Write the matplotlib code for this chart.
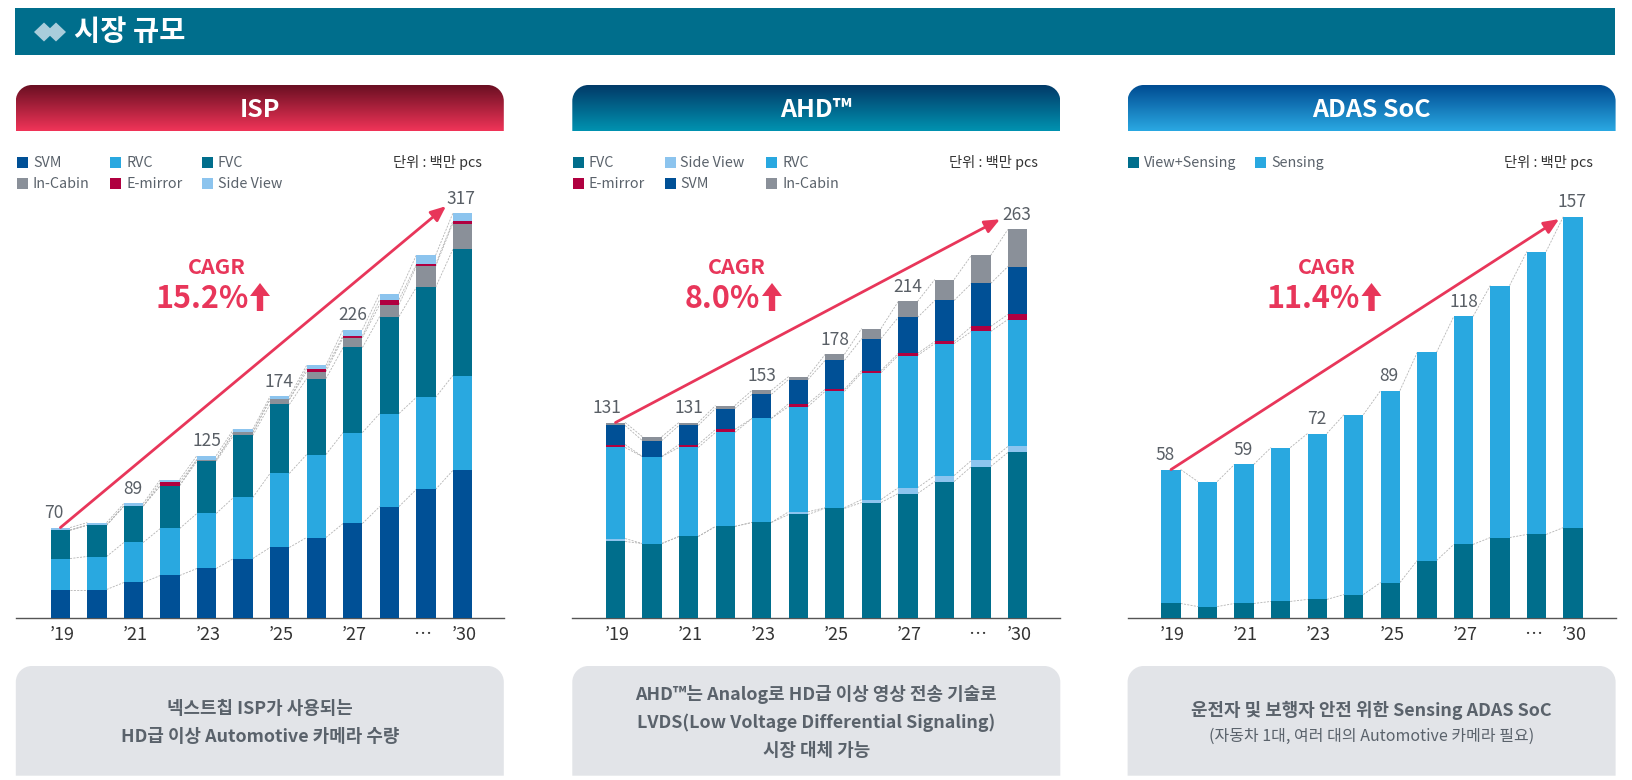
"""Market size panels: ISP, AHD, ADAS SoC stacked bars."""
import numpy as np
import matplotlib
matplotlib.use("Agg")
import matplotlib.pyplot as plt
from matplotlib.patches import PathPatch, Polygon, Rectangle
from matplotlib.path import Path

plt.rcParams["font.family"] = ["Noto Sans CJK KR", "DejaVu Sans"]

W, H = 1632, 780

# ---------------------------------------------------------------------------
# Data (million pcs)
# ---------------------------------------------------------------------------
tick_pos = [0.04, 2.04, 4.04, 6.04, 8.04, 9.9, 11.04]
tick_labels = ["’19", "’21", "’23", "’25", "’27", "…", "’30"]

isp_svm = [22.2, 22.2, 27.7, 33.2, 38.7, 46.5, 55.2, 63.0, 74.0, 87.3, 100.7, 115.6]
isp_rvc = [24.3, 25.9, 31.4, 36.9, 43.2, 47.9, 58.1, 65.1, 71.4, 73.0, 72.2, 74.5]
isp_fvc = [22.3, 24.6, 28.6, 33.7, 41.0, 48.7, 54.1, 59.6, 66.7, 76.1, 86.3, 98.9]
isp_cabin = [0, 0, 0, 0, 1.3, 2.4, 3.9, 5.5, 7.8, 9.4, 16.5, 20.4]
isp_emirror = [0, 0, 0, 2.6, 0, 0, 0, 2.4, 1.6, 3.9, 1.6, 1.6]
isp_side = [2.0, 2.0, 2.0, 2.1, 3.1, 2.4, 2.4, 2.4, 4.7, 4.7, 7.1, 6.3]
isp_labels = [70, 89, 125, 174, 226, 317]

ahd_fvc = [51.7, 50.3, 55.1, 61.9, 64.6, 70.0, 74.1, 78.1, 84.2, 92.3, 102.5, 112.0]
ahd_side = [2.0, 0, 0, 0, 0, 1.8, 0.5, 2.0, 3.9, 4.1, 4.1, 4.1]
ahd_rvc = [61.7, 58.9, 60.3, 63.7, 70.5, 71.3, 78.8, 86.0, 89.6, 89.4, 87.4, 86.0]
ahd_emirror = [2.0, 0, 2.0, 2.0, 0, 2.0, 1.4, 1.4, 1.4, 1.4, 3.4, 3.4]
ahd_svm = [12.9, 10.8, 12.9, 14.2, 16.3, 16.3, 19.6, 21.7, 24.4, 27.8, 29.1, 32.5]
ahd_cabin = [2.0, 2.7, 2.0, 2.0, 2.7, 2.0, 4.1, 6.8, 10.8, 14.2, 19.0, 25.1]
ahd_labels = [131, 131, 153, 178, 214, 263]

adas_view = [5.6, 4.4, 5.6, 6.4, 7.2, 9.1, 13.8, 22.4, 28.7, 31.4, 32.6, 35.3]
adas_sensing = [52.4, 48.9, 54.4, 60.2, 64.9, 70.4, 75.1, 81.4, 89.2, 98.6, 110.7, 121.7]
adas_labels = [58, 59, 72, 89, 118, 157]

COLORS = {
    "SVM": "#005096", "RVC": "#29a8e0", "FVC": "#006e8c",
    "In-Cabin": "#8a9099", "E-mirror": "#b00040", "Side View": "#8cc4ee",
    "View+Sensing": "#006e8c", "Sensing": "#29a8e0",
}
RED = "#e8365a"
GREY_TXT = "#5a626b"

panels = [
    dict(left=15.8, title="ISP", top=("#6a0f22", "#f03458"),
         series=[("SVM", isp_svm), ("RVC", isp_rvc), ("FVC", isp_fvc),
                 ("In-Cabin", isp_cabin), ("E-mirror", isp_emirror), ("Side View", isp_side)],
         legend=[("SVM", 17, 163), ("RVC", 110, 163), ("FVC", 201.5, 163),
                 ("In-Cabin", 17, 184.5), ("E-mirror", 110, 184.5), ("Side View", 201.5, 184.5)],
         scale=1.2744, offset=44.6, labels=isp_labels, label_dx=[-7, -1, 0, -1, 0, -1],
         tip=(10.55, 323), unit_x=481.5, cagr_x=217, pct="15.2%", pct_right=248.5, arrow_x=260,
         notes=[("넥스트칩 ISP가 사용되는", 709, 12.9, "bold"),
                ("HD급 이상 Automotive 카메라 수량", 737, 12.9, "bold")]),
    dict(left=572.3, title="AHD™", top=("#023a68", "#0092b0"),
         series=[("FVC", ahd_fvc), ("Side View", ahd_side), ("RVC", ahd_rvc),
                 ("E-mirror", ahd_emirror), ("SVM", ahd_svm), ("In-Cabin", ahd_cabin)],
         legend=[("FVC", 572.5, 163), ("Side View", 664.5, 163), ("RVC", 766, 163),
                 ("E-mirror", 572.5, 184.5), ("SVM", 664.5, 184.5), ("In-Cabin", 766, 184.5)],
         scale=1.476, offset=43.2, labels=ahd_labels, label_dx=[-9, 0, 0, 0, 0, -1],
         tip=(10.52, 270), unit_x=1037.5, cagr_x=736.5, pct="8.0%", pct_right=759.5, arrow_x=772,
         notes=[("AHD™는 Analog로 HD급 이상 영상 전송 기술로", 694, 12.9, "bold"),
                ("LVDS(Low Voltage Differential Signaling)", 722.5, 12.9, "bold"),
                ("시장 대체 가능", 750.5, 12.9, "bold")]),
    dict(left=1127.6, title="ADAS SoC", top=("#004c92", "#2aa8e2"),
         series=[("View+Sensing", adas_view), ("Sensing", adas_sensing)],
         legend=[("View+Sensing", 1127.5, 163), ("Sensing", 1255, 163)],
         scale=2.556, offset=43.4, labels=adas_labels, label_dx=[-6, -1, 0, -1, 0, -1],
         tip=(10.62, 156), unit_x=1592.5, cagr_x=1327, pct="11.4%", pct_right=1359.5, arrow_x=1371.5,
         notes=[("운전자 및 보행자 안전 위한 Sensing ADAS SoC", 710, 12.9, "bold"),
                ("(자동차 1대, 여러 대의 Automotive 카메라 필요)", 736, 11.5, "normal")]),
]

label_bars = [0, 2, 4, 6, 8, 11]
PANEL_W = 488
STEP = 36.55
BAR_W = 19.3
BASE_Y = 617.8
AX_TOP = 190


def top_round_path(x0, x1, y0, y1, r):
    """Box with rounded top corners, in pixel coords (y grows downward)."""
    k = 0.45 * r
    verts = [(x0, y1), (x0, y0 + r), (x0, y0 + k), (x0 + k, y0), (x0 + r, y0),
             (x1 - r, y0), (x1 - k, y0), (x1, y0 + k), (x1, y0 + r), (x1, y1), (x0, y1)]
    codes = [Path.MOVETO, Path.LINETO, Path.CURVE4, Path.CURVE4, Path.CURVE4,
             Path.LINETO, Path.CURVE4, Path.CURVE4, Path.CURVE4, Path.LINETO, Path.CLOSEPOLY]
    return Path(verts, codes)


fig = plt.figure(figsize=(W / 100, H / 100), dpi=100, facecolor="white")

# page-level decorations live in one pixel-space axes
deco = fig.add_axes([0, 0, 1, 1], zorder=1)
deco.set_xlim(0, W)
deco.set_ylim(H, 0)
deco.axis("off")

deco.add_patch(Rectangle((15.2, 8.3), 1599.8, 46.7, fc="#006e8c", ec="none"))
for cx in (44, 56):
    deco.add_patch(Polygon([(cx - 10, 32), (cx, 22.5), (cx + 10, 32), (cx, 41.5)], fc="#a9cddb", ec="none"))
deco.text(74, 32, "시장 규모", color="white", fontsize=20.5, fontweight="bold", va="center", ha="left")

for p in panels:
    x0, x1 = p["left"], p["left"] + PANEL_W

    # header with vertical gradient
    c0 = np.array(matplotlib.colors.to_rgb(p["top"][0]))
    c1 = np.array(matplotlib.colors.to_rgb(p["top"][1]))
    t = np.linspace(0, 1, 64)[:, None, None]
    grad = c0[None, None, :] * (1 - t) + c1[None, None, :] * t
    im = deco.imshow(grad, extent=(x0, x1, 131, 85), aspect="auto", zorder=1)
    im.set_clip_path(PathPatch(top_round_path(x0, x1, 85, 131, 16), transform=deco.transData))
    deco.text((x0 + x1) / 2, 110, p["title"], color="white", fontsize=18, fontweight="bold",
              ha="center", va="center", zorder=2)

    # note box
    deco.add_patch(PathPatch(top_round_path(x0, x1, 666, 775.7, 16), fc="#e2e4e8", ec="none"))
    for txt, y, size, weight in p["notes"]:
        deco.text((x0 + x1) / 2, y, txt, color=GREY_TXT, fontsize=size, fontweight=weight,
                  ha="center", va="center")

    # legend and unit
    for name, lx, ly in p["legend"]:
        deco.add_patch(Rectangle((lx, ly - 6.5), 11, 11, fc=COLORS[name], ec="none"))
        deco.text(lx + 16, ly, name, color=GREY_TXT, fontsize=10.3, ha="left", va="center")
    deco.text(p["unit_x"], 163, "단위 : 백만 pcs", color="#333333", fontsize=10.3, ha="right", va="center")

    # CAGR callout, the up arrow is drawn as a shape next to the number
    deco.text(p["cagr_x"], 267, "CAGR", color=RED, fontsize=15.5, fontweight="bold", ha="center", va="center")
    deco.text(p["pct_right"], 299, p["pct"], color=RED, fontsize=22, fontweight="bold",
              ha="right", va="center")
    ar = p["arrow_x"]
    deco.add_patch(Polygon([(ar, 283), (ar + 10, 296), (ar + 3.2, 296), (ar + 3.2, 311),
                            (ar - 3.2, 311), (ar - 3.2, 296), (ar - 10, 296)], fc=RED, ec="none"))

    # chart axes
    ax = fig.add_axes([x0 / W, 1 - BASE_Y / H, PANEL_W / W, (BASE_Y - AX_TOP) / H], zorder=2)
    ax.patch.set_alpha(0)
    ax.set_xlim(-p["offset"] / STEP, (PANEL_W - p["offset"]) / STEP)
    ax.set_ylim(0, (BASE_Y - AX_TOP) / p["scale"])
    for side in ("top", "left", "right"):
        ax.spines[side].set_visible(False)
    ax.spines["bottom"].set_color("#555555")
    ax.spines["bottom"].set_linewidth(1)
    ax.set_yticks([])
    ax.set_xticks(tick_pos)
    ax.set_xticklabels(tick_labels, fontsize=13, color="#333333")
    ax.tick_params(axis="x", length=0, pad=6)

    xs = np.arange(12)
    width = BAR_W / STEP
    bottom = np.zeros(12)
    for name, vals in p["series"]:
        ax.bar(xs, vals, width, bottom=bottom, color=COLORS[name], linewidth=0, zorder=3)
        bottom = bottom + np.array(vals)
        for i in range(11):
            ax.plot([i + width / 2, i + 1 - width / 2], [bottom[i], bottom[i + 1]],
                    color="#b4b4b4", lw=0.6, ls=(0, (2.5, 1.5)), zorder=2)

    for i, val, dx in zip(label_bars, p["labels"], p["label_dx"]):
        ax.annotate(str(val), xy=(i, bottom[i]), xytext=(dx * 0.72, 10.5), textcoords="offset points",
                    ha="center", va="center", fontsize=12.5, color="#595f66", annotation_clip=False)

    ax.annotate("", xy=p["tip"], xytext=(0, bottom[0]), zorder=5,
                arrowprops=dict(arrowstyle="-|>,head_length=0.7,head_width=0.3", color=RED,
                                lw=2, shrinkA=0, shrinkB=0, mutation_scale=13))

fig.savefig("out.png", dpi=100)
